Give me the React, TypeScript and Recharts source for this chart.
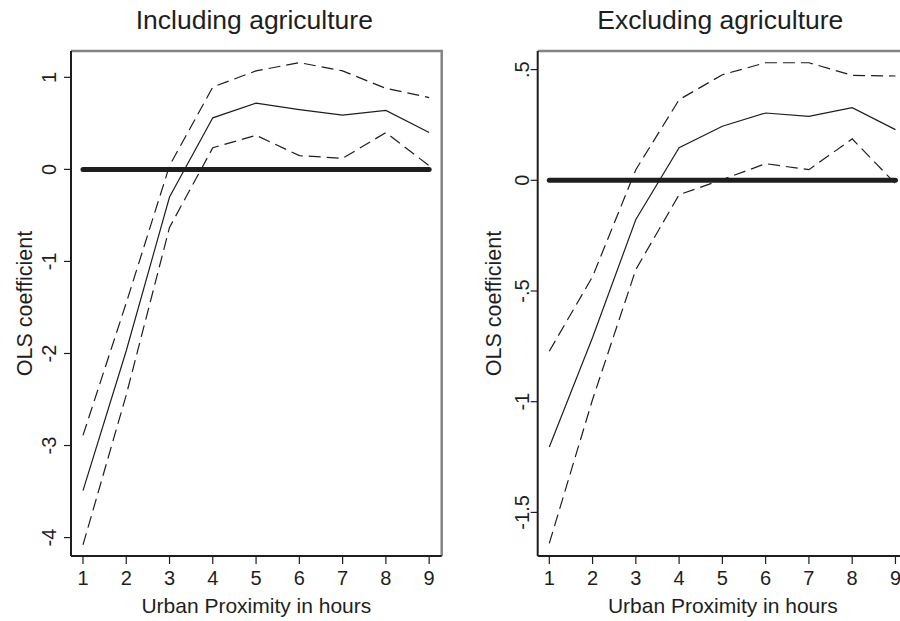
import { LineChart, Line, XAxis, YAxis, ReferenceArea } from 'recharts'

const hours = [1, 2, 3, 4, 5, 6, 7, 8, 9]
const hourTicks = [1, 2, 3, 4, 5, 6, 7, 8, 9]

// Including agriculture
const inclCoef = [-3.49, -1.97, -0.3, 0.56, 0.72, 0.65, 0.59, 0.64, 0.4]
const inclUpper = [-2.89, -1.45, 0.04, 0.895, 1.07, 1.16, 1.07, 0.88, 0.78]
const inclLower = [-4.08, -2.45, -0.63, 0.235, 0.37, 0.15, 0.12, 0.4, 0.04]
const inclTicks = [-4, -3, -2, -1, 0, 1]
const inclTickLabels = ['-4', '-3', '-2', '-1', '0', '1']

// Excluding agriculture
const exclCoef = [-1.205, -0.71, -0.177, 0.147, 0.244, 0.304, 0.289, 0.328, 0.229]
const exclUpper = [-0.772, -0.435, 0.048, 0.364, 0.477, 0.531, 0.531, 0.474, 0.471]
const exclLower = [-1.64, -0.99, -0.403, -0.065, 0.003, 0.075, 0.048, 0.187, -0.015]
const exclTicks = [-1.5, -1, -0.5, 0, 0.5]
const exclTickLabels = ['-1.5', '-1', '-.5', '0', '.5']

const FONT = '"Liberation Sans", Arial, Helvetica, sans-serif'
const INK = '#1e1e1e'

function rows(coef: number[], upper: number[], lower: number[]) {
  return hours.map((h, i) => ({ h, coef: coef[i], upper: upper[i], lower: lower[i], zero: 0 }))
}

type PanelProps = {
  coef: number[]
  upper: number[]
  lower: number[]
  yTicks: number[]
  yLabels: string[]
  yDomain: [number, number]
  xDomain: [number, number]
  width: number
  yAxisWidth: number
  right: number
  plotW: number
  tickGap: number
  titleX: number
}

function Panel(p: PanelProps) {
  const data = rows(p.coef, p.upper, p.lower)
  const plotH = 505
  const YTick = (props: any) => {
    const { x, y, payload } = props
    const i = p.yTicks.indexOf(payload.value)
    return (
      <text x={x} y={y} transform={`rotate(-90 ${x} ${y})`} textAnchor="middle"
        fontSize={20} fontFamily={FONT} fill={INK}>
        {p.yLabels[i]}
      </text>
    )
  }
  const YTitle = (props: any) => {
    const vb = props.viewBox || {}
    const cx = (vb.x ?? 0) + p.titleX
    const cy = (vb.y ?? 51) + (vb.height ?? plotH) / 2
    return (
      <text x={cx} y={cy} transform={`rotate(-90 ${cx} ${cy})`} textAnchor="middle"
        fontSize={21.5} fontFamily={FONT} fill={INK}>
        OLS coefficient
      </text>
    )
  }
  return (
    <LineChart width={p.width} height={621} data={data}
      margin={{ top: 51, right: p.right, bottom: 0, left: 0 }}>
      <ReferenceArea x1={p.xDomain[0]} x2={p.xDomain[1]} y1={p.yDomain[0]} y2={p.yDomain[1]}
        fill="none" stroke="#848484" strokeWidth={2.5}
        strokeDasharray={`${p.plotW + plotH} ${p.plotW + plotH}`} ifOverflow="visible" />
      <XAxis dataKey="h" type="number" domain={p.xDomain} ticks={hourTicks} allowDataOverflow
        height={65} tickSize={8} tickMargin={7}
        axisLine={{ stroke: INK, strokeWidth: 2 }} tickLine={{ stroke: INK, strokeWidth: 1.2 }}
        tick={{ fontSize: 20, fontFamily: FONT, fill: INK }}
        label={{ value: 'Urban Proximity in hours', position: 'insideBottom', offset: 8.5,
          fontSize: 21, fontFamily: FONT, fill: INK }} />
      <YAxis type="number" domain={p.yDomain} ticks={p.yTicks} allowDataOverflow
        width={p.yAxisWidth} tickSize={7} tickMargin={p.tickGap}
        axisLine={{ stroke: INK, strokeWidth: 2 }} tickLine={{ stroke: INK, strokeWidth: 1.2 }}
        tick={YTick} label={YTitle} />
      <Line dataKey="zero" stroke={INK} strokeWidth={5} strokeLinecap="round" dot={false}
        isAnimationActive={false} />
      <Line dataKey="upper" stroke={INK} strokeWidth={1.2} strokeDasharray="12 6" dot={false}
        isAnimationActive={false} />
      <Line dataKey="lower" stroke={INK} strokeWidth={1.2} strokeDasharray="12 6" dot={false}
        isAnimationActive={false} />
      <Line dataKey="coef" stroke={INK} strokeWidth={1.2} dot={false} isAnimationActive={false} />
    </LineChart>
  )
}

export default function App() {
  return (
    <div style={{ position: 'absolute', left: 0, top: 0, width: 900, height: 621, overflow: 'hidden', background: '#fff' }}>
      <div style={{ position: 'absolute', left: 0, top: 0 }}>
        <Panel coef={inclCoef} upper={inclUpper} lower={inclLower} yTicks={inclTicks}
          yLabels={inclTickLabels} yDomain={[-4.2, 1.286]} xDomain={[0.723, 9.29]}
          width={450} yAxisWidth={71} right={8.3} plotW={370.7} tickGap={8} titleX={31.5} />
      </div>
      <div style={{ position: 'absolute', left: 450, top: 0 }}>
        <Panel coef={exclCoef} upper={exclUpper} lower={exclLower} yTicks={exclTicks}
          yLabels={exclTickLabels} yDomain={[-1.697, 0.584]} xDomain={[0.732, 9.29]}
          width={460} yAxisWidth={87.7} right={2} plotW={370.3} tickGap={2} titleX={50.7} />
      </div>
      <svg width={900} height={621} style={{ position: 'absolute', left: 0, top: 0, pointerEvents: 'none' }}>
        <text x={254.3} y={29.3} textAnchor="middle" fontSize={26.5} fontFamily={FONT} fill={INK}>
          Including agriculture
        </text>
        <text x={720.3} y={29.3} textAnchor="middle" fontSize={26.5} fontFamily={FONT} fill={INK}>
          Excluding agriculture
        </text>
      </svg>
    </div>
  )
}
